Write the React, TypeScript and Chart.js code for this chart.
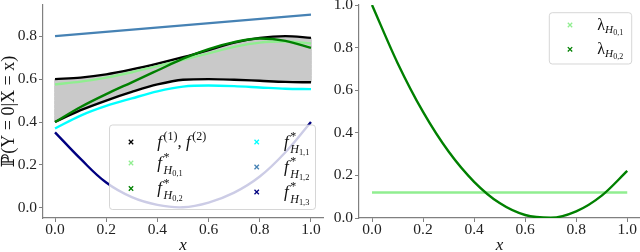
import React, { useEffect, useRef } from "react";
import { Chart, registerables } from "chart.js";
Chart.register(...registerables);

// ---------- data ----------
const xGrid = [0, 0.1, 0.2, 0.3, 0.4, 0.5, 0.6, 0.7, 0.8, 0.9, 1.0];
const fUpper = [0.6, 0.607, 0.622, 0.645, 0.672, 0.702, 0.735, 0.77, 0.792, 0.8, 0.792];
const fLower = [0.4, 0.455, 0.5, 0.54, 0.575, 0.597, 0.6, 0.597, 0.592, 0.587, 0.585];
const fH01 = [0.575, 0.588, 0.607, 0.632, 0.66, 0.69, 0.72, 0.75, 0.77, 0.775, 0.766];
const fH02 = [0.4, 0.47, 0.53, 0.585, 0.64, 0.695, 0.74, 0.772, 0.789, 0.778, 0.745];
const fH11 = [0.37, 0.43, 0.475, 0.51, 0.543, 0.565, 0.57, 0.567, 0.561, 0.555, 0.553];
const xH12 = [0, 1];
const fH12 = [0.8, 0.9];
const xH13 = [0, 0.1, 0.2, 0.3, 0.4, 0.5, 0.6, 0.7, 0.8, 0.9, 1.0];
const fH13 = [0.352, 0.228, 0.118, 0.05, 0.014, 0.003, 0.025, 0.071, 0.146, 0.259, 0.4];

const xLam01 = [0, 1];
const lamH01 = [0.12, 0.12];
const lamH02 = [1.0, 0.728, 0.498, 0.312, 0.17, 0.07, 0.014, 0.001, 0.031, 0.105, 0.221];

const xTicks = [0, 0.2, 0.4, 0.6, 0.8, 1.0];
const leftYTicks = [0, 0.2, 0.4, 0.6, 0.8];
const rightYTicks = [0, 0.2, 0.4, 0.6, 0.8, 1.0];

// ---------- helpers ----------
const SERIF = '"Liberation Serif", "DejaVu Serif", serif';
const pts = (xs: number[], ys: number[]) => xs.map((x, i) => ({ x, y: ys[i] }));

type Seg = { t: string; size: number; italic?: boolean; dy?: number; keepX?: boolean; gap?: number };

function drawRich(ctx: CanvasRenderingContext2D, segs: Seg[], x: number, y: number) {
  let cx = x;
  for (const s of segs) {
    ctx.font = `${s.italic ? "italic " : ""}${s.size}px ${SERIF}`;
    ctx.fillText(s.t, cx, y + (s.dy || 0));
    const w = ctx.measureText(s.t).width + (s.gap || 0);
    if (!s.keepX) cx += w;
  }
}

function drawCross(ctx: CanvasRenderingContext2D, x: number, y: number, color: string) {
  const r = 2.2;
  ctx.strokeStyle = color;
  ctx.lineWidth = 1.3;
  ctx.beginPath();
  ctx.moveTo(x - r, y - r);
  ctx.lineTo(x + r, y + r);
  ctx.moveTo(x - r, y + r);
  ctx.lineTo(x + r, y - r);
  ctx.stroke();
}

type Entry = { mx: number; my: number; lx: number; color: string; segs: Seg[] };

function legendPlugin(box: { l: number; t: number; w: number; h: number }, entries: Entry[]) {
  return {
    id: "richLegend",
    afterDatasetsDraw(chart: any) {
      const ctx: CanvasRenderingContext2D = chart.ctx;
      ctx.save();
      const { l, t, w, h } = box;
      const r = 3;
      ctx.beginPath();
      ctx.moveTo(l + r, t);
      ctx.lineTo(l + w - r, t);
      ctx.arcTo(l + w, t, l + w, t + r, r);
      ctx.lineTo(l + w, t + h - r);
      ctx.arcTo(l + w, t + h, l + w - r, t + h, r);
      ctx.lineTo(l + r, t + h);
      ctx.arcTo(l, t + h, l, t + h - r, r);
      ctx.lineTo(l, t + r);
      ctx.arcTo(l, t, l + r, t, r);
      ctx.closePath();
      ctx.fillStyle = "rgba(255,255,255,0.8)";
      ctx.fill();
      ctx.strokeStyle = "rgba(204,204,204,0.8)";
      ctx.lineWidth = 1;
      ctx.stroke();
      ctx.textAlign = "left";
      ctx.textBaseline = "alphabetic";
      for (const e of entries) {
        drawCross(ctx, l + e.mx, t + e.my, e.color);
        ctx.fillStyle = "#111";
        drawRich(ctx, e.segs, l + e.lx, t + e.my + 4.5);
      }
      ctx.restore();
    },
  };
}

const fStar = (sub: string): Seg[] => [
  { t: "f", size: 17, italic: true, gap: 1.5 },
  { t: "*", size: 12, dy: -6.5, keepX: true },
  { t: "H", size: 12, italic: true, dy: 6 },
  { t: sub, size: 8.4, dy: 8 },
];
const lamSub = (sub: string): Seg[] => [
  { t: "λ", size: 16 },
  { t: "H", size: 11.2, italic: true, dy: 3.5 },
  { t: sub, size: 8, dy: 5.5 },
];

function scaleX(min: number, max: number) {
  return {
    type: "linear" as const,
    min,
    max,
    afterBuildTicks: (s: any) => {
      s.ticks = xTicks.map((v) => ({ value: v }));
    },
    afterFit: (s: any) => {
      s.height = 34;
      s.paddingLeft = 0;
      s.paddingRight = 0;
    },
    grid: { display: true, drawOnChartArea: false, drawTicks: true, tickLength: 4, color: "#808080", lineWidth: 1 },
    border: { display: true, color: "#808080", width: 1.2 },
    ticks: {
      padding: 0,
      color: "#222",
      font: { family: SERIF, size: 15.5, lineHeight: 1 },
      maxRotation: 0,
      callback: (v: any) => Number(v).toFixed(1),
    },
    title: {
      display: true,
      text: "x",
      color: "#111",
      font: { family: SERIF, size: 17, style: "italic" as const, lineHeight: 1 },
      padding: { top: 0, bottom: -2 },
    },
  };
}

function scaleY(min: number, max: number, ticks: number[], width: number, title?: string) {
  return {
    type: "linear" as const,
    min,
    max,
    afterBuildTicks: (s: any) => {
      s.ticks = ticks.map((v) => ({ value: v }));
    },
    afterFit: (s: any) => {
      s.width = width;
      s.paddingTop = 0;
      s.paddingBottom = 0;
    },
    grid: { display: true, drawOnChartArea: false, drawTicks: true, tickLength: 4, color: "#808080", lineWidth: 1 },
    border: { display: true, color: "#808080", width: 1.2 },
    ticks: {
      padding: 2,
      color: "#222",
      font: { family: SERIF, size: 15.5, lineHeight: 1 },
      callback: (v: any) => Number(v).toFixed(1),
    },
    title: {
      display: !!title,
      text: title || "",
      color: "#111",
      font: { family: SERIF, size: 18, lineHeight: 1 },
      padding: { top: 0, bottom: 0 },
    },
  };
}

const line = (data: any[], color: string, order: number, extra: any = {}) => ({
  data,
  borderColor: color,
  backgroundColor: color,
  borderWidth: 2.4,
  pointRadius: 0,
  showLine: true,
  fill: false,
  cubicInterpolationMode: "monotone" as const,
  order,
  ...extra,
});

function LeftChart() {
  const ref = useRef<HTMLCanvasElement>(null);
  useEffect(() => {
    const chart = new Chart(ref.current!, {
      type: "line",
      data: {
        datasets: [
          line(pts(xGrid, fUpper), "#000000", 9, { fill: "+1", backgroundColor: "#c9c9c9" }),
          line(pts(xGrid, fLower), "#000000", 8),
          line(pts([0, 0], [fLower[0], fUpper[0]]), "#9a9a9a", 10, { borderWidth: 1 }),
          line(pts([1, 1], [fLower[fLower.length - 1], fUpper[fUpper.length - 1]]), "#9a9a9a", 10, { borderWidth: 1 }),
          line(pts(xGrid, fH01), "#90ee90", 7),
          line(pts(xGrid, fH02), "#008000", 6),
          line(pts(xGrid, fH11), "#00ffff", 5),
          line(pts(xH12, fH12), "#4682b4", 4),
          line(pts(xH13, fH13), "#000080", 3, { cubicInterpolationMode: "default", tension: 0.4 }),
        ],
      },
      options: {
        animation: false,
        responsive: false,
        devicePixelRatio: 1,
        layout: { padding: { top: 5, right: 3, bottom: 0, left: 0 } },
        plugins: { legend: { display: false }, tooltip: { enabled: false } },
        scales: {
          x: scaleX(-0.047, 1.047),
          y: scaleY(-0.047, 0.945, leftYTicks, 43, "ℙ(Y = 0|X = x)"),
        },
      },
      plugins: [
        legendPlugin({ l: 109.5, t: 125, w: 206, h: 84.5 }, [
          {
            mx: 21.5, my: 17, lx: 47.8, color: "#000000",
            segs: [
              { t: "f", size: 17, italic: true, gap: 1.5 },
              { t: "(1)", size: 12, dy: -6.5 },
              { t: ", ", size: 17 },
              { t: "f", size: 17, italic: true, gap: 1.5 },
              { t: "(2)", size: 12, dy: -6.5 },
            ],
          },
          { mx: 21.5, my: 38, lx: 47.8, color: "#90ee90", segs: fStar("0,1") },
          { mx: 21.5, my: 63.5, lx: 47.8, color: "#008000", segs: fStar("0,2") },
          { mx: 147.2, my: 17, lx: 174.5, color: "#00ffff", segs: fStar("1,1") },
          { mx: 147.2, my: 42, lx: 174.5, color: "#4682b4", segs: fStar("1,2") },
          { mx: 147.2, my: 67, lx: 174.5, color: "#000080", segs: fStar("1,3") },
        ]),
      ],
    } as any);
    return () => chart.destroy();
  }, []);
  return <canvas ref={ref} width={326} height={252} style={{ display: "block" }} />;
}

function RightChart() {
  const ref = useRef<HTMLCanvasElement>(null);
  useEffect(() => {
    const chart = new Chart(ref.current!, {
      type: "line",
      data: {
        datasets: [
          line(pts(xLam01, lamH01), "#90ee90", 2),
          line(pts(xGrid, lamH02), "#008000", 1),
        ],
      },
      options: {
        animation: false,
        responsive: false,
        devicePixelRatio: 1,
        layout: { padding: { top: 5, right: 0, bottom: 0, left: 0 } },
        plugins: { legend: { display: false }, tooltip: { enabled: false } },
        scales: {
          x: scaleX(-0.051, 1.05),
          y: scaleY(0, 1, rightYTicks, 39),
        },
      },
      plugins: [
        legendPlugin({ l: 229.3, t: 12.7, w: 82.4, h: 51.3 }, [
          { mx: 20.7, my: 12.3, lx: 48, color: "#90ee90", segs: lamSub("0,1") },
          { mx: 20.7, my: 36.6, lx: 48, color: "#008000", segs: lamSub("0,2") },
        ]),
      ],
    } as any);
    return () => chart.destroy();
  }, []);
  return <canvas ref={ref} width={320} height={252} style={{ display: "block" }} />;
}

export default function App() {
  return (
    <div style={{ position: "absolute", left: 0, top: 0, width: 640, height: 252, background: "#fff", overflow: "hidden" }}>
      <div style={{ position: "absolute", left: 0, top: 0 }}>
        <LeftChart />
      </div>
      <div style={{ position: "absolute", left: 320, top: 0 }}>
        <RightChart />
      </div>
    </div>
  );
}
